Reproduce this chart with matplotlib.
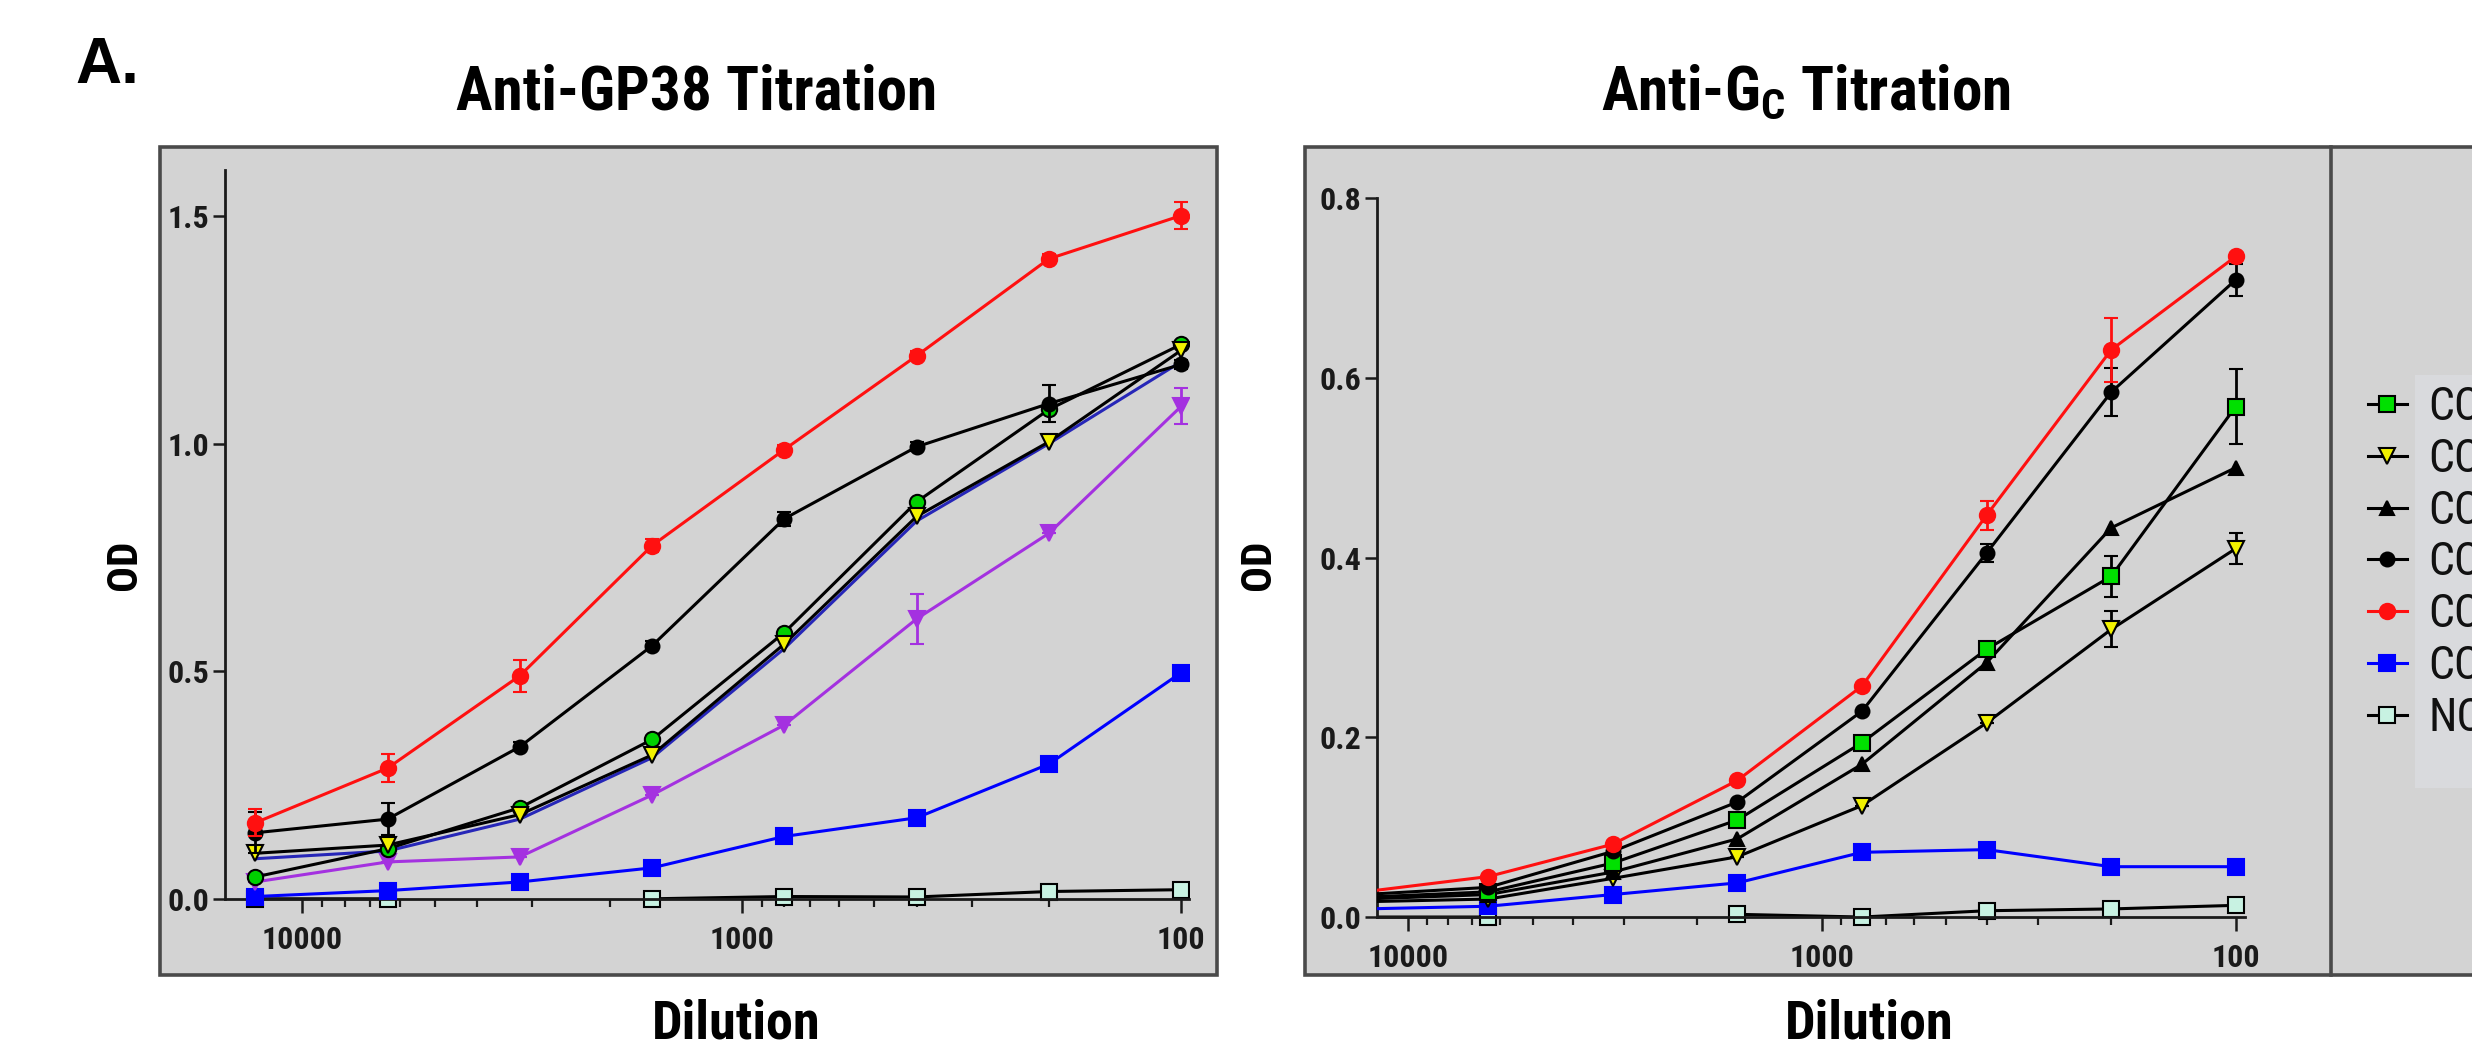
import numpy as np
import matplotlib
matplotlib.use("Agg")
import matplotlib.pyplot as plt
from matplotlib import font_manager
from matplotlib.patches import Rectangle
from matplotlib.lines import Line2D
from matplotlib.ticker import FixedLocator, LogLocator, NullFormatter

# dilution series (x axis is reversed, log scale)
dilution = [12800, 6400, 3200, 1600, 800, 400, 200, 100]

# Anti-GP38 titration (OD)
gp38_red = [0.167, 0.287, 0.49, 0.776, 0.987, 1.193, 1.406, 1.501]
gp38_red_err = [0.03, 0.03, 0.035, 0.015, 0.01, 0.01, 0.01, 0.03]
gp38_black = [0.145, 0.175, 0.334, 0.556, 0.835, 0.993, 1.088, 1.174]
gp38_black_err = [0.045, 0.035, 0.01, 0.01, 0.015, 0.01, 0.04, 0.01]
gp38_green = [0.048, 0.11, 0.2, 0.35, 0.585, 0.872, 1.075, 1.218]
gp38_yellow = [0.1, 0.118, 0.185, 0.316, 0.56, 0.84, 1.004, 1.205]
gp38_navy = [0.088, 0.105, 0.175, 0.31, 0.55, 0.83, 1.0, 1.18]
gp38_purple = [0.037, 0.081, 0.092, 0.228, 0.382, 0.615, 0.803, 1.082]
gp38_purple_err = [0, 0, 0, 0, 0, 0.055, 0, 0.04]
gp38_blue = [0.005, 0.018, 0.037, 0.068, 0.137, 0.178, 0.296, 0.497]
gp38_nc = [0.0, 0.0, np.nan, 0.0, 0.005, 0.004, 0.016, 0.02]

# Anti-Gc titration (OD)
gc_green = [0.022, 0.028, 0.06, 0.108, 0.194, 0.298, 0.379, 0.568]
gc_green_err = [0, 0, 0, 0, 0, 0, 0.023, 0.042]
gc_yellow = [0.017, 0.02, 0.043, 0.067, 0.124, 0.216, 0.32, 0.41]
gc_yellow_err = [0, 0, 0, 0, 0, 0, 0.02, 0.017]
gc_tri = [0.02, 0.025, 0.05, 0.087, 0.17, 0.283, 0.433, 0.5]
gc_black = [0.025, 0.033, 0.073, 0.128, 0.229, 0.405, 0.584, 0.709]
gc_black_err = [0, 0, 0, 0, 0, 0.01, 0.027, 0.018]
gc_red = [0.028, 0.045, 0.081, 0.152, 0.257, 0.447, 0.631, 0.735]
gc_red_err = [0, 0, 0, 0, 0, 0.016, 0.036, 0]
gc_blue = [0.009, 0.012, 0.025, 0.038, 0.072, 0.075, 0.056, 0.056]
gc_nc = [0.0, 0.0, np.nan, 0.003, 0.0, 0.007, 0.009, 0.013]

legend_labels = ["CC", "CC", "CC", "CC", "CC", "CC", "NC"]

installed = {f.name for f in font_manager.fontManager.ttflist}
narrow = next((n for n in ["Liberation Sans Narrow", "Roboto Condensed", "Arial Narrow", "Roboto"]
               if n in installed), "DejaVu Sans")
plt.rcParams["font.family"] = [narrow, "DejaVu Sans"]
plt.rcParams["mathtext.fontset"] = "custom"
plt.rcParams["mathtext.rm"] = narrow
plt.rcParams["mathtext.bf"] = narrow + ":bold"

W, H = 2472, 1051


def fx(px):
    return px / W


def fy(py):
    return 1 - py / H


fig = plt.figure(figsize=(W / 100, H / 100), dpi=100)

# gray panel boxes
for x0, x1 in [(160, 1217), (1305, 2500)]:
    fig.add_artist(Rectangle((fx(x0), fy(975)), fx(x1) - fx(x0), fy(147) - fy(975),
                             transform=fig.transFigure, facecolor="#d3d3d3",
                             edgecolor="#4a4a4a", lw=2.6, zorder=-2))
fig.add_artist(Line2D([fx(2331), fx(2331)], [fy(147), fy(975)], transform=fig.transFigure,
                      color="#4a4a4a", lw=2.6, zorder=-1))
# lighter patch behind the legend labels
fig.add_artist(Rectangle((fx(2415), fy(788)), fx(2480) - fx(2415), fy(375) - fy(788),
                         transform=fig.transFigure, facecolor="#d9dadd",
                         edgecolor="none", zorder=-1))


def setup(ax, xlim, ylim, yticks, ytop):
    ax.patch.set_visible(False)
    ax.set_xscale("log")
    ax.set_xlim(*xlim)
    ax.set_ylim(*ylim)
    ax.xaxis.set_major_locator(FixedLocator([10000, 1000, 100]))
    ax.set_xticklabels(["10000", "1000", "100"])
    ax.xaxis.set_minor_locator(LogLocator(base=10, subs=range(2, 10)))
    ax.xaxis.set_minor_formatter(NullFormatter())
    ax.set_yticks(yticks)
    ax.set_yticklabels([f"{t:.1f}" for t in yticks])
    for s in ["top", "right"]:
        ax.spines[s].set_visible(False)
    ax.spines["bottom"].set_position(("data", 0))
    ax.spines["left"].set_bounds(0, ytop)
    for s in ["left", "bottom"]:
        ax.spines[s].set_linewidth(2.0)
        ax.spines[s].set_color("#1a1a1a")
    ax.tick_params(axis="x", which="major", direction="out", length=10, width=1.8,
                   pad=9, labelsize=23, labelcolor="#1a1a1a", color="#1a1a1a")
    ax.tick_params(axis="x", which="minor", direction="out", length=6, width=1.6,
                   color="#1a1a1a")
    ax.tick_params(axis="y", direction="out", length=9, width=1.8, pad=2,
                   labelsize=23, labelcolor="#1a1a1a", color="#1a1a1a")
    for lab in ax.get_xticklabels() + ax.get_yticklabels():
        lab.set_fontweight("bold")


def series(ax, y, err, line, marker, face, edge, ms, z):
    ax.errorbar(dilution, y, yerr=err, color=line, marker=marker, mfc=face, mec=edge,
                ms=ms, mew=1.5, lw=2.2, ecolor=edge if err is not None else line,
                elinewidth=2, capsize=5, capthick=2, zorder=z, clip_on=True)


# left panel: Anti-GP38
ax1 = fig.add_axes([fx(225), fy(917), fx(1189) - fx(225), (917 - 170.5) / H])
setup(ax1, (15000, 96), (-0.04, 1.6), [0.0, 0.5, 1.0, 1.5], 1.6)
series(ax1, gp38_nc, None, "black", "s", "#c8f2e2", "black", 12, 2)
series(ax1, gp38_blue, None, "#0000ff", "s", "#0000ff", "#0000ff", 12, 3)
series(ax1, gp38_purple, gp38_purple_err, "#a431e0", "v", "#a431e0", "#a431e0", 11, 4)
series(ax1, gp38_navy, None, "#2626b8", None, "#2626b8", "#2626b8", 0, 5)
series(ax1, gp38_green, None, "black", "o", "#00d000", "black", 11, 6)
series(ax1, gp38_yellow, None, "black", "v", "#f2f200", "black", 12, 7)
series(ax1, gp38_black, gp38_black_err, "black", "o", "black", "black", 10, 8)
series(ax1, gp38_red, gp38_red_err, "#ff1010", "o", "#ff1010", "#ff1010", 11, 9)

# right panel: Anti-Gc
ax2 = fig.add_axes([fx(1377), fy(935), fx(2245) - fx(1377), (935 - 198) / H])
setup(ax2, (11880, 95), (-0.02, 0.8), [0.0, 0.2, 0.4, 0.6, 0.8], 0.8)
gc_styles = [
    (gc_green, gc_green_err, "black", "s", "#00e000", "black", 12, 6),
    (gc_yellow, gc_yellow_err, "black", "v", "#f2f200", "black", 11, 4),
    (gc_tri, None, "black", "^", "black", "black", 10, 5),
    (gc_black, gc_black_err, "black", "o", "black", "black", 10, 7),
    (gc_red, gc_red_err, "#ff1010", "o", "#ff1010", "#ff1010", 11, 8),
    (gc_blue, None, "#0000ff", "s", "#0000ff", "#0000ff", 12, 3),
    (gc_nc, None, "black", "s", "#c8f2e2", "black", 12, 2),
]
handles = []
for y, err, line, marker, face, edge, ms, z in gc_styles:
    series(ax2, y, err, line, marker, face, edge, ms, z)
    handles.append(Line2D([], [], color=line, marker=marker, mfc=face, mec=edge,
                          ms=ms, mew=1.5, lw=2.2))

leg = fig.legend(handles, legend_labels, loc="upper left",
                 bbox_to_anchor=(fx(2368), fy(385)), frameon=False,
                 fontsize=33, handlelength=0.85, handletextpad=0.46,
                 labelspacing=0.17, borderpad=0, borderaxespad=0)
for t in leg.get_texts():
    t.set_color("#111111")

# titles and axis titles
fig.text(fx(75), fy(83), "A.", fontsize=46, fontweight="bold",
         family=["Liberation Sans", "DejaVu Sans"], va="baseline", ha="left")
fig.text(fx(697), fy(92), "Anti-GP38 Titration", fontsize=44, fontweight="bold",
         ha="center", va="center")
fig.text(fx(1806), fy(92), r"Anti-G$_{\mathbf{C}}$ Titration", fontsize=44,
         fontweight="bold", ha="center", va="center")
fig.text(fx(125), fy(565), "OD", fontsize=31, fontweight="bold", rotation=90,
         ha="center", va="center")
fig.text(fx(1259), fy(565), "OD", fontsize=31, fontweight="bold", rotation=90,
         ha="center", va="center")
fig.text(fx(736), fy(1024), "Dilution", fontsize=39, fontweight="bold",
         ha="center", va="center")
fig.text(fx(1869), fy(1024), "Dilution", fontsize=39, fontweight="bold",
         ha="center", va="center")

fig.savefig("out.png", dpi=100)
